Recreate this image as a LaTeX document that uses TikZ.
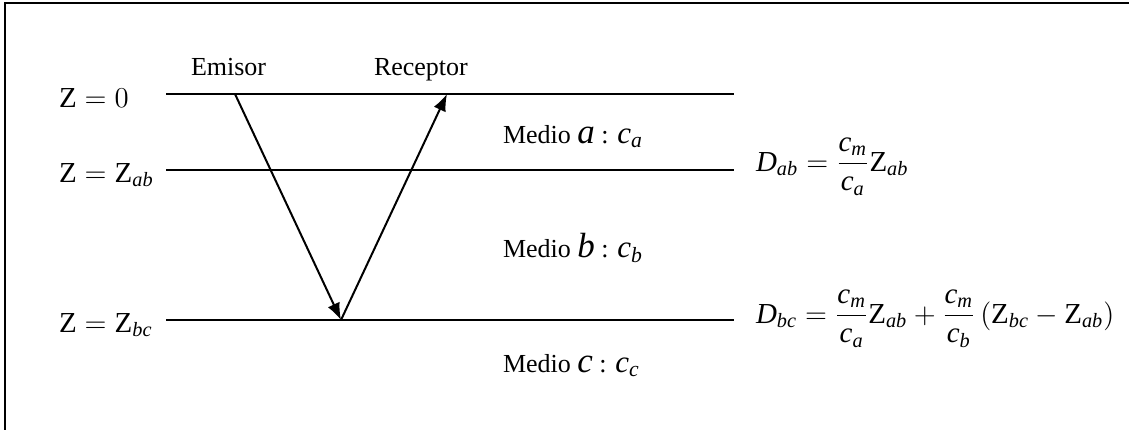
\documentclass[tikz,border=0pt]{standalone}
\usepackage{amsmath}
\usepackage{fontspec}
\setmainfont{Liberation Serif}
\usetikzlibrary{arrows.meta}
\newcommand{\vi}[1]{\text{\itshape #1}}
\newcommand{\vz}{\text{Z}}
\newcommand{\vbig}[1]{{\fontsize{17.5}{20}\selectfont\itshape #1}}
\newcommand{\vc}[1]{{\fontsize{15.5}{18}\selectfont$\vi{c}_{\vi{#1}}$}}

\begin{document}
\begin{tikzpicture}[x=0.5pt,y=-0.5pt,line width=1pt,
    lbl/.style={anchor=base west,inner sep=0pt,font=\fontsize{13}{15}\selectfont},
    eq/.style={anchor=base west,inner sep=0pt,font=\fontsize{14.5}{17}\selectfont},
    ray/.style={-{Latex[length=8.5pt,width=6.5pt]}}]
\useasboundingbox (0,0) rectangle (1129,429);
\draw[line width=1.1pt] (5,3) rectangle (1200,500);
        \coordinate (A0) at (166,94);
        \coordinate (B0) at (734,94);
        \coordinate (A1) at (166,170);
        \coordinate (B1) at (734,170);
        \coordinate (A2) at (166,320);
        \coordinate (B2) at (734,320);
        \coordinate (E) at (235,94);
        \coordinate (P) at (341,320);
        \coordinate (R) at (447,94);
\draw (A0)--(B0);
\draw (A1)--(B1);
\draw (A2)--(B2);
\draw[ray] (E)--(P);
\draw[ray] (P)--(R);
\node[eq] (z0) at (58,107) {$\vz = 0$};
\node[eq] (z1) at (58,182) {$\vz = \vz_{\vi{ab}}$};
\node[eq] (z2) at (58,332) {$\vz = \vz_{\vi{bc}}$};
\node[lbl] (em) at (190,75) {Emisor};
\node[lbl] (re) at (373,75) {Receptor};
\node[lbl] (ma) at (502,143) {Medio \vbig{a} : \vc{a}};
\node[lbl] (mb) at (502,257) {Medio \vbig{b} : \vc{b}};
\node[lbl] (mc) at (502,372) {Medio \vbig{c} : \vc{c}};
\node[eq] (dab) at (755,171) {$\vi{D}_{\vi{ab}} = \dfrac{\vi{c}_{\vi{m}}}{\vi{c}_{\vi{a}}}\vz_{\vi{ab}}$};
\node[eq] (dbc) at (755,323) {$\vi{D}_{\vi{bc}} = \dfrac{\vi{c}_{\vi{m}}}{\vi{c}_{\vi{a}}}\vz_{\vi{ab}} + \dfrac{\vi{c}_{\vi{m}}}{\vi{c}_{\vi{b}}}\left(\vz_{\vi{bc}} - \vz_{\vi{ab}}\right)$};
\end{tikzpicture}
\end{document}
